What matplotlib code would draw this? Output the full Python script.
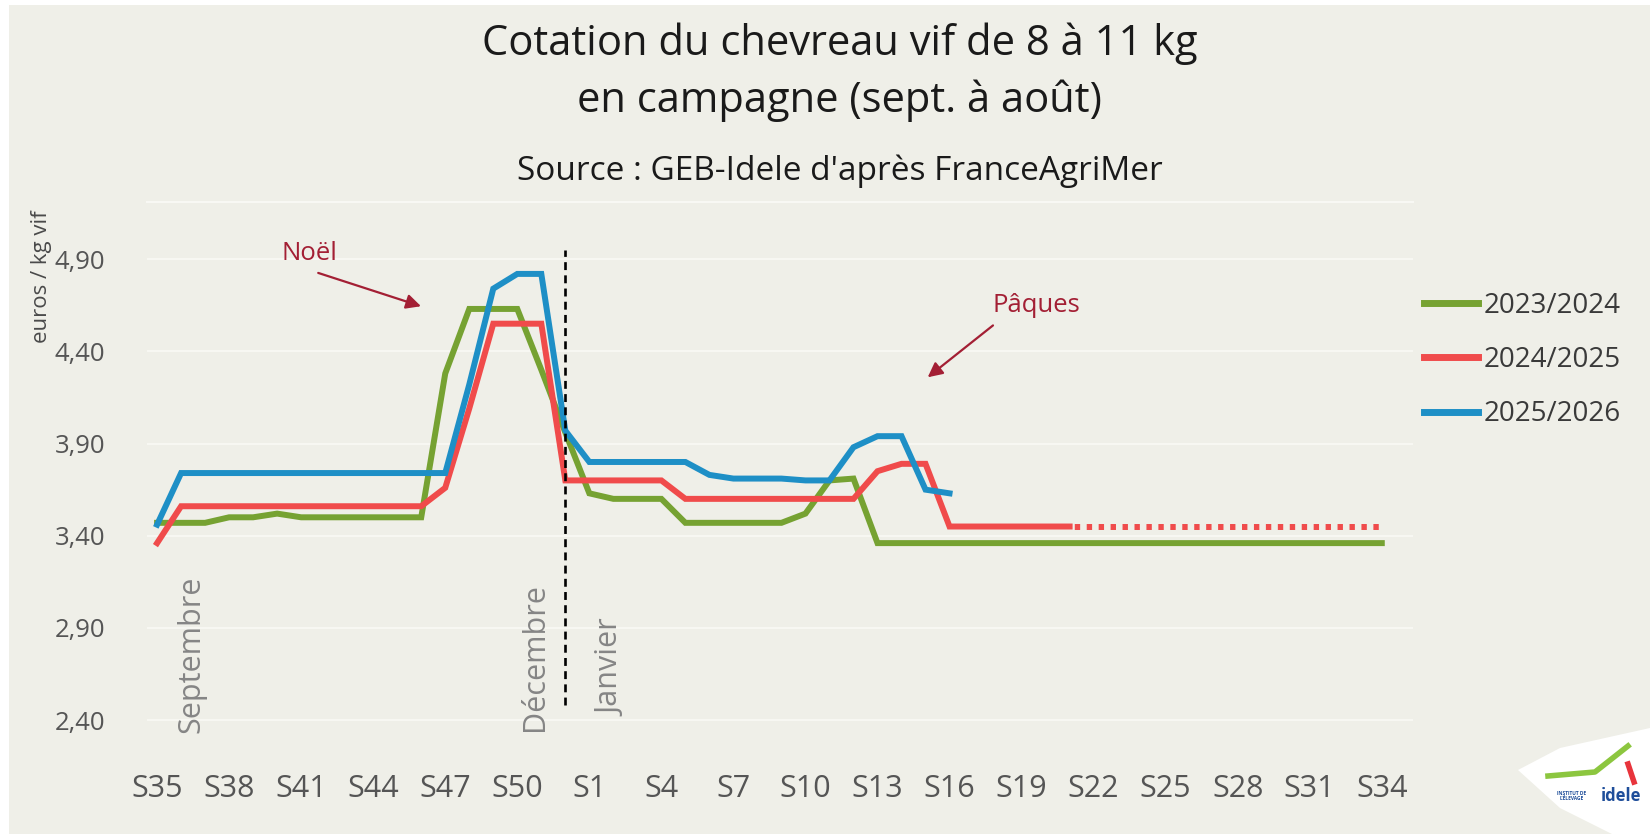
import matplotlib
matplotlib.use("Agg")
import matplotlib.pyplot as plt
from matplotlib.lines import Line2D
from matplotlib.patches import Polygon, Rectangle

plt.rcParams['font.family'] = ['Open Sans', 'DejaVu Sans']

# semaines de campagne : S35 -> S52 puis S1 -> S34
weeks = ["S%d" % w for w in list(range(35, 53)) + list(range(1, 35))]
tick_every = 3

# 2023/2024
green = [3.47, 3.47, 3.47, 3.50, 3.50, 3.52, 3.50, 3.50, 3.50, 3.50,
         3.50, 3.50, 4.28, 4.63, 4.63, 4.63, 4.30, 3.96, 3.63, 3.60,
         3.60, 3.60, 3.47, 3.47, 3.47, 3.47, 3.47, 3.52, 3.70, 3.71,
         3.36, 3.36, 3.36, 3.36, 3.36, 3.36, 3.36, 3.36, 3.36, 3.36,
         3.36, 3.36, 3.36, 3.36, 3.36, 3.36, 3.36, 3.36, 3.36, 3.36,
         3.36, 3.36]
# 2024/2025 (pointillés a partir de S21)
red = [3.36, 3.56, 3.56, 3.56, 3.56, 3.56, 3.56, 3.56, 3.56, 3.56,
       3.56, 3.56, 3.66, 4.09, 4.55, 4.55, 4.55, 3.70, 3.70, 3.70,
       3.70, 3.70, 3.60, 3.60, 3.60, 3.60, 3.60, 3.60, 3.60, 3.60,
       3.75, 3.79, 3.79, 3.45, 3.45, 3.45, 3.45, 3.45, 3.45, 3.45,
       3.45, 3.45, 3.45, 3.45, 3.45, 3.45, 3.45, 3.45, 3.45, 3.45,
       3.45, 3.45]
red_solid_end = 38
# 2025/2026 (jusqu'a S16)
blue = [3.46, 3.74, 3.74, 3.74, 3.74, 3.74, 3.74, 3.74, 3.74, 3.74,
        3.74, 3.74, 3.74, 4.22, 4.74, 4.82, 4.82, 3.97, 3.80, 3.80,
        3.80, 3.80, 3.80, 3.73, 3.71, 3.71, 3.71, 3.70, 3.70, 3.88,
        3.94, 3.94, 3.65, 3.63]

series_names = ["2023/2024", "2024/2025", "2025/2026"]
yticks = [2.40, 2.90, 3.40, 3.90, 4.40, 4.90]
year_change = 17  # separation decembre / janvier

BG = "#EFEFE8"
GREEN = "#76A232"
RED = "#F04B4B"
BLUE = "#1E8FC6"
ANNOT = "#A31F34"
GREY = "#4A4A4A"
W, H = 1650, 834

fig = plt.figure(figsize=(16.5, 8.34), dpi=100, facecolor="white")
fig.patches.append(Rectangle((9 / W, 0), 1, 1 - 5 / H, transform=fig.transFigure,
                             facecolor=BG, edgecolor="none", zorder=-10))

ax = fig.add_axes([147 / W, 77 / H, 1266 / W, 555 / H])
ax.set_facecolor(BG)

x_all = list(range(len(weeks)))
ax.plot(x_all, green, color=GREEN, lw=4.3, solid_joinstyle="miter", zorder=3)
ax.plot(x_all[:red_solid_end + 1], red[:red_solid_end + 1], color=RED, lw=4.3,
        solid_joinstyle="miter", zorder=3)
ax.plot(x_all[red_solid_end:], red[red_solid_end:], color=RED, lw=4.3,
        linestyle=(1.2, (0.9, 1.1)), dash_capstyle="butt", zorder=3)
ax.plot(x_all[:len(blue)], blue, color=BLUE, lw=4.3, solid_joinstyle="miter", zorder=4)

ax.vlines(year_change, 2.48, 4.95, colors="black", linestyles=(0, (3, 2)), lw=1.9, zorder=5)

ax.set_xlim(-0.42, 52.3)
ax.set_ylim(2.2, 5.21)
ax.set_yticks(yticks)
ax.set_yticklabels([("%.2f" % v).replace(".", ",") for v in yticks])
ax.set_xticks(x_all[::tick_every])
ax.set_xticklabels(weeks[::tick_every])
ax.tick_params(axis="both", length=0, colors="#555555")
ax.tick_params(axis="y", labelsize=18.5, pad=30)
ax.tick_params(axis="x", labelsize=22, pad=12)
ax.grid(axis="y", color="#F8F8F4", lw=1.3, zorder=0)
for s in ["left", "right", "bottom"]:
    ax.spines[s].set_visible(False)
ax.spines["top"].set_color("#F8F8F4")
ax.spines["top"].set_linewidth(1.5)

ax.set_ylabel("euros / kg vif", fontsize=16, color=GREY)
ax.yaxis.set_label_coords(-0.075, 0.865)

# mois
month_color = "#858585"
ax.text(1.45, 2.33, "Septembre", rotation=90, ha="center", va="bottom",
        fontsize=22, color=month_color)
ax.text(15.75, 2.34, "Décembre", rotation=90, ha="center", va="bottom",
        fontsize=22, color=month_color)
ax.text(18.9, 2.42, "Janvier", rotation=90, ha="center", va="bottom",
        fontsize=22, color=month_color)

# fetes
ax.annotate("", xy=(11.1, 4.64), xytext=(6.6, 4.83),
            arrowprops=dict(arrowstyle="-|>", color=ANNOT, lw=1.6, mutation_scale=22))
ax.text(6.35, 4.93, "Noël", ha="center", va="center", fontsize=18.5, color=ANNOT)
ax.annotate("", xy=(32.0, 4.25), xytext=(34.9, 4.55),
            arrowprops=dict(arrowstyle="-|>", color=ANNOT, lw=1.6, mutation_scale=22))
ax.text(36.6, 4.65, "Pâques", ha="center", va="center", fontsize=18.5, color=ANNOT)

handles = [Line2D([], [], color=c, lw=5) for c in (GREEN, RED, BLUE)]
fig.legend(handles, series_names, loc="center left",
           bbox_to_anchor=(1424 / W, 1 - 360 / H), frameon=False,
           fontsize=20, handlelength=1.95, handletextpad=0.2, labelspacing=0.95,
           borderpad=0, borderaxespad=0, labelcolor="#3A3A3A")

fig.text(0.509, 1 - 55 / H, "Cotation du chevreau vif de 8 à 11 kg",
         ha="center", va="baseline", fontsize=30, color="#1A1A1A")
fig.text(0.509, 1 - 112 / H, "en campagne (sept. à août)",
         ha="center", va="baseline", fontsize=30, color="#1A1A1A")
fig.text(0.509, 1 - 180 / H, "Source : GEB-Idele d'après FranceAgriMer",
         ha="center", va="baseline", fontsize=24, color="#1A1A1A")

# logo idele (simplifie)
logo = [(1518, 770), (1560, 748), (1650, 728), (1650, 834), (1612, 834), (1560, 808)]
fig.patches.append(Polygon([(px / W, 1 - py / H) for px, py in logo], closed=True,
                           transform=fig.transFigure, facecolor="white",
                           edgecolor="none", zorder=1))
fig.text(1621 / W, 1 - 796 / H, "idele", ha="center", va="center",
         fontsize=12, fontweight="bold", color="#1F4E9A")
fig.text(1572 / W, 1 - 796 / H, "INSTITUT DE\nL'ÉLEVAGE", ha="center", va="center",
         fontsize=3.5, fontweight="bold", color="#1F4E9A", linespacing=1.1)
fig.lines.append(Line2D([1548 / W, 1595 / W, 1628 / W],
                        [1 - 776 / H, 1 - 772 / H, 1 - 746 / H],
                        transform=fig.transFigure, color="#8CC63F", lw=4))
fig.lines.append(Line2D([1628 / W, 1634 / W], [1 - 764 / H, 1 - 782 / H],
                        transform=fig.transFigure, color="#E8343C", lw=4))

fig.savefig("out.png", dpi=100, facecolor=fig.get_facecolor())
